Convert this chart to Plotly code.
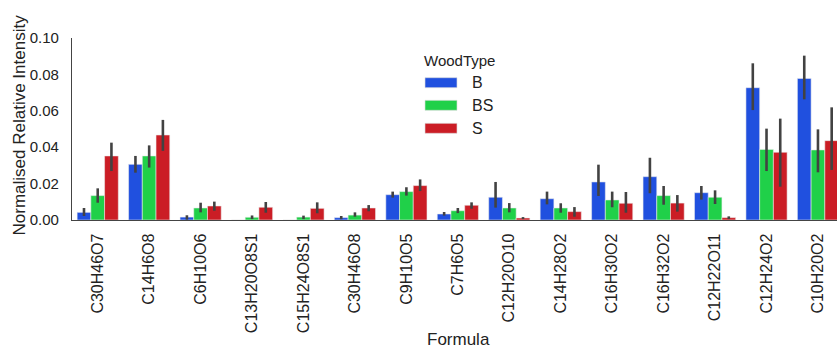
import plotly.graph_objects as go

formulas = ["C30H46O7", "C14H6O8", "C6H10O6", "C13H20O8S1", "C15H24O8S1", "C30H46O8",
            "C9H10O5", "C7H6O5", "C12H20O10", "C14H28O2", "C16H30O2", "C16H32O2",
            "C12H22O11", "C12H24O2", "C10H20O2"]

wood_types = ["B", "BS", "S"]

b_vals = [0.0042, 0.0306, 0.0016, 0.0, 0.0, 0.0013, 0.0139, 0.0033, 0.0125, 0.0117,
          0.0209, 0.0238, 0.0150, 0.0727, 0.0778]
b_hi = [0.0066, 0.0352, 0.0026, 0.0, 0.0, 0.0022, 0.0156, 0.0044, 0.0209, 0.0156,
        0.0304, 0.0342, 0.0187, 0.0861, 0.0903]
b_lo = [0.0022, 0.0260, 0.0002, 0.0, 0.0, 0.0004, 0.0123, 0.0024, 0.0068, 0.0086,
        0.0132, 0.0147, 0.0112, 0.0604, 0.0663]

bs_vals = [0.0134, 0.0352, 0.0066, 0.0015, 0.0016, 0.0027, 0.0156, 0.0051, 0.0066, 0.0066,
           0.0110, 0.0134, 0.0125, 0.0388, 0.0385]
bs_hi = [0.0174, 0.0410, 0.0095, 0.0025, 0.0024, 0.0042, 0.0180, 0.0066, 0.0093, 0.0092,
         0.0156, 0.0187, 0.0163, 0.0502, 0.0498]
bs_lo = [0.0095, 0.0288, 0.0042, 0.0005, 0.0005, 0.0018, 0.0134, 0.0038, 0.0042, 0.0040,
         0.0070, 0.0084, 0.0088, 0.0269, 0.0262]

s_vals = [0.0352, 0.0467, 0.0077, 0.0070, 0.0064, 0.0066, 0.0189, 0.0081, 0.0011, 0.0046,
          0.0092, 0.0093, 0.0013, 0.0372, 0.0436]
s_hi = [0.0425, 0.0550, 0.0101, 0.0099, 0.0097, 0.0082, 0.0223, 0.0097, 0.0016, 0.0071,
        0.0154, 0.0137, 0.0020, 0.0557, 0.0619]
s_lo = [0.0269, 0.0380, 0.0051, 0.0040, 0.0037, 0.0048, 0.0159, 0.0062, 0.0005, 0.0018,
        0.0040, 0.0046, 0.0005, 0.0183, 0.0275]

colors = ["#2050DF", "#20D049", "#CB1D25"]
series = [(b_vals, b_hi, b_lo), (bs_vals, bs_hi, bs_lo), (s_vals, s_hi, s_lo)]

FONT = "Liberation Sans, Arial, sans-serif"
TXT = "#222222"

fig = go.Figure()
for name, color, (vals, hi, lo) in zip(wood_types, colors, series):
    fig.add_trace(go.Bar(
        x=formulas, y=vals, name=name,
        marker=dict(color=color, line=dict(color="rgba(235,235,235,0.7)", width=0.8)),
        error_y=dict(type="data", symmetric=False,
                     array=[h - v if h > v else 0 for h, v in zip(hi, vals)],
                     arrayminus=[v - l if v > l else 0 for l, v in zip(lo, vals)],
                     color="#424242", thickness=2.6, width=0,
                     visible=True),
        showlegend=False,
    ))

L, R, T, B = 72, 0, 38, 128
W, H = 837, 348

fig.update_layout(
    width=W, height=H,
    margin=dict(l=L, r=R, t=T, b=B),
    paper_bgcolor="white", plot_bgcolor="white",
    barmode="group", bargap=0.2, bargroupgap=0,
    font=dict(family=FONT, size=16, color=TXT),
)

fig.update_xaxes(
    type="category", range=[-0.5, 14.37],
    showline=True, linecolor="#444444", linewidth=1.3,
    showgrid=False, zeroline=False,
    tickangle=-90, tickfont=dict(size=16, color=TXT),
    ticks="", ticklabelstandoff=6,
)
fig.update_yaxes(
    range=[0, 0.1], tickvals=[0, 0.02, 0.04, 0.06, 0.08, 0.10], tickformat=".2f",
    showline=True, linecolor="#444444", linewidth=1.3,
    showgrid=False, zeroline=False,
    ticks="", ticklabelstandoff=9, tickfont=dict(size=15, color=TXT),
)

pw, ph = W - L - R, H - T - B
def px(x):
    return (x - L) / pw
def py(y):
    return (H - B - y) / ph

# axis titles
fig.add_annotation(x=px(18.5), y=py(125), xref="paper", yref="paper",
                   text="Normalised Relative Intensity", textangle=-90,
                   showarrow=False, xanchor="center", yanchor="middle",
                   font=dict(size=17, color=TXT))
fig.add_annotation(x=px(458), y=py(339), xref="paper", yref="paper",
                   text="Formula", showarrow=False, xanchor="center", yanchor="middle",
                   font=dict(size=17, color=TXT))

# custom legend (seaborn style with wide patches)
fig.add_annotation(x=px(422), y=py(60), xref="paper", yref="paper", text="WoodType",
                   showarrow=False, xanchor="left", yanchor="middle",
                   font=dict(size=15, color=TXT))
for i, (name, color) in enumerate(zip(wood_types, colors)):
    cy = [82.7, 105.3, 128.3][i]
    fig.add_shape(type="rect", xref="paper", yref="paper",
                  x0=px(425), x1=px(457), y0=py(cy - 5), y1=py(cy + 5),
                  fillcolor=color, line=dict(color="rgba(220,220,220,0.8)", width=0.8))
    fig.add_annotation(x=px(470), y=py(cy), xref="paper", yref="paper", text=name,
                       showarrow=False, xanchor="left", yanchor="middle",
                       font=dict(size=16, color=TXT))

fig.write_html("out.html")
